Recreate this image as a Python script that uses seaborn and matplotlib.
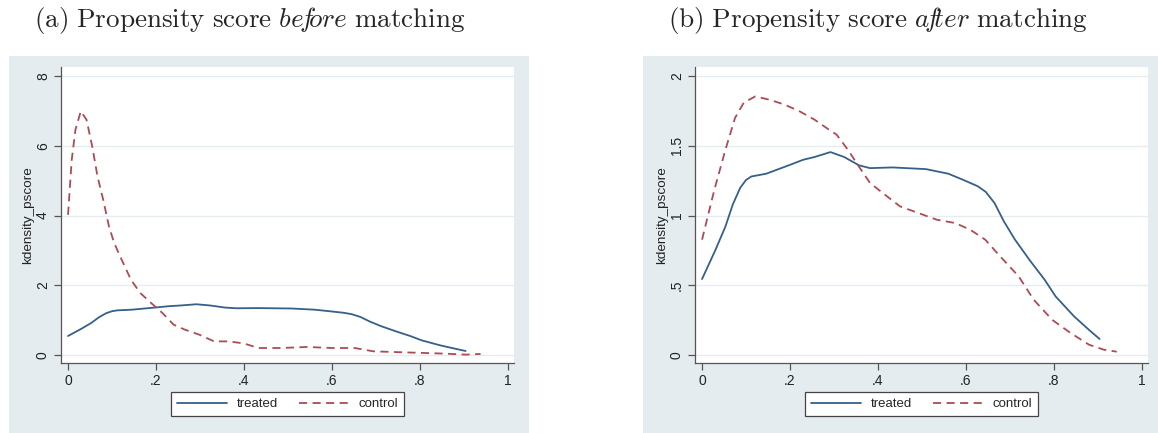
import pandas as pd
import matplotlib
matplotlib.use('Agg')
import matplotlib.pyplot as plt
import seaborn as sns
from matplotlib.patches import Rectangle

# kernel density of the propensity score
treated_x = [0, 0.03, 0.053, 0.07, 0.087, 0.1, 0.112, 0.146, 0.197, 0.23, 0.256, 0.292, 0.323,
             0.357, 0.382, 0.433, 0.509, 0.56, 0.593, 0.627, 0.645, 0.665, 0.686, 0.711, 0.745,
             0.779, 0.804, 0.846, 0.88, 0.904]
treated_y = [0.545, 0.75, 0.92, 1.08, 1.2, 1.255, 1.28, 1.30, 1.36, 1.40, 1.42, 1.455, 1.42,
             1.36, 1.34, 1.345, 1.333, 1.30, 1.257, 1.21, 1.17, 1.09, 0.96, 0.83, 0.68,
             0.54, 0.42, 0.277, 0.18, 0.115]

before_control_x = [0, 0.0084, 0.0168, 0.029, 0.042, 0.055, 0.067, 0.08, 0.093, 0.105, 0.122,
                    0.143, 0.164, 0.189, 0.215, 0.24, 0.265, 0.299, 0.332, 0.366, 0.4, 0.433,
                    0.484, 0.543, 0.602, 0.652, 0.694, 0.753, 0.804, 0.854, 0.905, 0.938]
before_control_y = [4.02, 5.6, 6.46, 6.99, 6.75, 5.98, 5.12, 4.45, 3.69, 3.21, 2.73,
                    2.16, 1.78, 1.49, 1.2, 0.87, 0.73, 0.58, 0.39, 0.39, 0.33, 0.2,
                    0.2, 0.23, 0.2, 0.2, 0.105, 0.08, 0.06, 0.04, 0.01, 0.03]

after_control_x = [0, 0.028, 0.053, 0.075, 0.095, 0.121, 0.154, 0.188, 0.222, 0.256, 0.289,
                   0.306, 0.332, 0.357, 0.382, 0.416, 0.45, 0.492, 0.534, 0.576, 0.61, 0.644,
                   0.678, 0.72, 0.754, 0.796, 0.838, 0.88, 0.914, 0.943]
after_control_y = [0.827, 1.185, 1.47, 1.7, 1.81, 1.854, 1.83, 1.795, 1.747, 1.687, 1.615,
                   1.58, 1.47, 1.35, 1.233, 1.149, 1.066, 1.018, 0.97, 0.946, 0.898, 0.827,
                   0.707, 0.564, 0.397, 0.253, 0.158, 0.074, 0.038, 0.024]

x_ticks = [0, 0.2, 0.4, 0.6, 0.8, 1]
x_labels = ['0', '.2', '.4', '.6', '.8', '1']
before_yticks = [0, 2, 4, 6, 8]
before_ylabels = ['0', '2', '4', '6', '8']
after_yticks = [0, 0.5, 1, 1.5, 2]
after_ylabels = ['0', '.5', '1', '1.5', '2']

groups = ['treated', 'control']
colors = {'treated': '#35608a', 'control': '#ad4b55'}

sns.set_style('white')
plt.rcParams['font.family'] = ['Liberation Sans', 'DejaVu Sans']
plt.rcParams['mathtext.fontset'] = 'cm'

panel_bg = '#e5ecef'
grid_col = '#e6edf1'
axis_col = '#555555'


def make_df(cx, cy):
    t = pd.DataFrame({'pscore': treated_x, 'density': treated_y, 'group': 'treated'})
    c = pd.DataFrame({'pscore': cx, 'density': cy, 'group': 'control'})
    return pd.concat([t, c], ignore_index=True)


fig = plt.figure(figsize=(11.58, 4.33), dpi=100)
W, H = 1158, 433

panels = [
    (9, 529, 61, 250, make_df(before_control_x, before_control_y), before_yticks,
     before_ylabels, (-0.23, 8.26),
     r'$\mathrm{(a)\ Propensity\ score\ }\mathit{be\!f\!ore}\mathrm{\ matching}$'),
    (643, 1158, 695, 878, make_df(after_control_x, after_control_y), after_yticks,
     after_ylabels, (-0.057, 2.065),
     r'$\mathrm{(b)\ Propensity\ score\ }\mathit{a\!f\!ter}\mathrm{\ matching}$'),
]

for gx0, gx1, ax_left, tx, df, yt, ytl, ylim, title in panels:
    fig.patches.append(Rectangle((gx0 / W, 0), (gx1 - gx0) / W, 1 - 56 / H,
                                 transform=fig.transFigure, facecolor=panel_bg,
                                 edgecolor='none', zorder=-5))
    ax = fig.add_axes([ax_left / W, 1 - 363 / H, 453 / W, 296 / H])
    ax.set_zorder(1)
    ax.set_facecolor('white')
    for y in yt:
        ax.axhline(y, color=grid_col, lw=1.0, zorder=0)
    sns.lineplot(data=df, x='pscore', y='density', hue='group', style='group',
                 hue_order=groups, style_order=groups, palette=colors,
                 dashes={'treated': '', 'control': (4.5, 3)}, estimator=None,
                 sort=False, lw=1.3, ax=ax)
    ax.set_xlim(-0.016, 1.014)
    ax.set_ylim(*ylim)
    ax.set_xticks(x_ticks)
    ax.set_xticklabels(x_labels, fontsize=10)
    ax.set_yticks(yt)
    ax.set_yticklabels(ytl, fontsize=10, rotation=90, va='center')
    ax.tick_params(direction='out', length=5, width=0.9, color=axis_col,
                   labelcolor='#222222', pad=3, left=True, bottom=True)
    for side in ['top', 'right']:
        ax.spines[side].set_visible(False)
    for side in ['left', 'bottom']:
        ax.spines[side].set_color(axis_col)
        ax.spines[side].set_linewidth(0.9)
    ax.set_xlabel('')
    ax.set_ylabel('kdensity_pscore', fontsize=9.7, color='#222222', labelpad=1)
    handles, labels = ax.get_legend_handles_labels()
    ax.legend(handles, labels, loc='center', bbox_to_anchor=(0.5, (404 - 363) / -296.0),
              ncol=2, fontsize=9.5, frameon=True, fancybox=False, edgecolor='#444444',
              framealpha=1, handlelength=3.8, handletextpad=0.7, columnspacing=1.6,
              borderpad=0.45)
    ax.get_legend().get_frame().set_linewidth(0.9)
    fig.text(tx / W, 1 - 21 / H, title, ha='center', va='center', fontsize=19.5)

fig.savefig('out.png', dpi=100)
